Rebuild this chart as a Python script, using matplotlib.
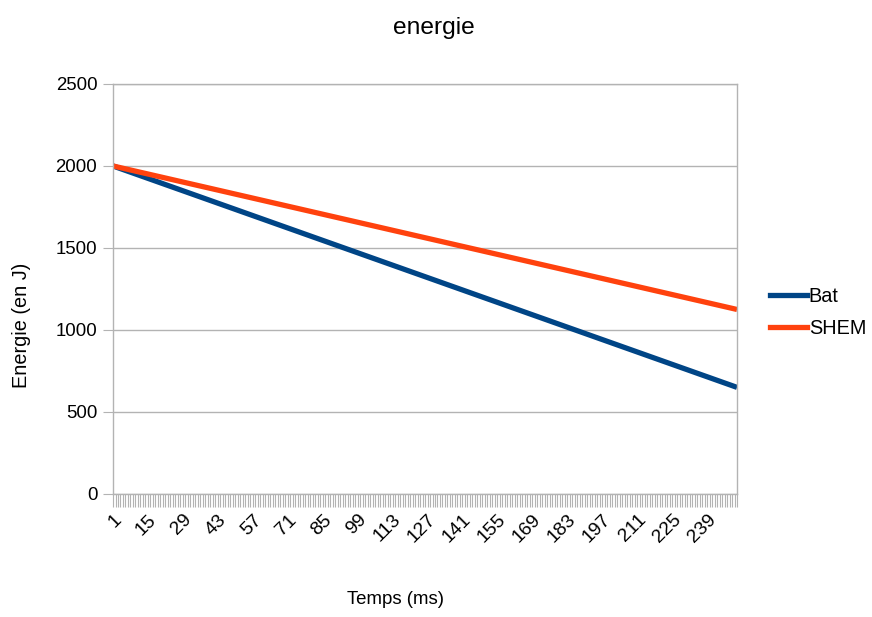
import matplotlib
matplotlib.use("Agg")
import matplotlib.pyplot as plt
from matplotlib import font_manager
from matplotlib.lines import Line2D

# the reference text looks condensed: use the narrow face when it exists
installed = {f.name for f in font_manager.fontManager.ttflist}
if "Liberation Sans Narrow" in installed:
    plt.rcParams["font.family"] = ["Liberation Sans Narrow", "DejaVu Sans"]
    k = 1.0
else:
    plt.rcParams["font.family"] = ["Liberation Sans", "DejaVu Sans"]
    k = 0.84

# categories: time step in ms (1 .. 251)
temps = list(range(1, 252))

# energy (J), one value per time step
bat = [
    2000, 1994.6, 1989.2, 1983.8, 1978.4, 1973, 1967.6, 1962.2, 1956.8, 1951.4,
    1946, 1940.6, 1935.2, 1929.8, 1924.4, 1919, 1913.6, 1908.2, 1902.8, 1897.4,
    1892, 1886.6, 1881.2, 1875.8, 1870.4, 1865, 1859.6, 1854.2, 1848.8, 1843.4,
    1838, 1832.6, 1827.2, 1821.8, 1816.4, 1811, 1805.6, 1800.2, 1794.8, 1789.4,
    1784, 1778.6, 1773.2, 1767.8, 1762.4, 1757, 1751.6, 1746.2, 1740.8, 1735.4,
    1730, 1724.6, 1719.2, 1713.8, 1708.4, 1703, 1697.6, 1692.2, 1686.8, 1681.4,
    1676, 1670.6, 1665.2, 1659.8, 1654.4, 1649, 1643.6, 1638.2, 1632.8, 1627.4,
    1622, 1616.6, 1611.2, 1605.8, 1600.4, 1595, 1589.6, 1584.2, 1578.8, 1573.4,
    1568, 1562.6, 1557.2, 1551.8, 1546.4, 1541, 1535.6, 1530.2, 1524.8, 1519.4,
    1514, 1508.6, 1503.2, 1497.8, 1492.4, 1487, 1481.6, 1476.2, 1470.8, 1465.4,
    1460, 1454.6, 1449.2, 1443.8, 1438.4, 1433, 1427.6, 1422.2, 1416.8, 1411.4,
    1406, 1400.6, 1395.2, 1389.8, 1384.4, 1379, 1373.6, 1368.2, 1362.8, 1357.4,
    1352, 1346.6, 1341.2, 1335.8, 1330.4, 1325, 1319.6, 1314.2, 1308.8, 1303.4,
    1298, 1292.6, 1287.2, 1281.8, 1276.4, 1271, 1265.6, 1260.2, 1254.8, 1249.4,
    1244, 1238.6, 1233.2, 1227.8, 1222.4, 1217, 1211.6, 1206.2, 1200.8, 1195.4,
    1190, 1184.6, 1179.2, 1173.8, 1168.4, 1163, 1157.6, 1152.2, 1146.8, 1141.4,
    1136, 1130.6, 1125.2, 1119.8, 1114.4, 1109, 1103.6, 1098.2, 1092.8, 1087.4,
    1082, 1076.6, 1071.2, 1065.8, 1060.4, 1055, 1049.6, 1044.2, 1038.8, 1033.4,
    1028, 1022.6, 1017.2, 1011.8, 1006.4, 1001, 995.6, 990.2, 984.8, 979.4,
    974, 968.6, 963.2, 957.8, 952.4, 947, 941.6, 936.2, 930.8, 925.4,
    920, 914.6, 909.2, 903.8, 898.4, 893, 887.6, 882.2, 876.8, 871.4,
    866, 860.6, 855.2, 849.8, 844.4, 839, 833.6, 828.2, 822.8, 817.4,
    812, 806.6, 801.2, 795.8, 790.4, 785, 779.6, 774.2, 768.8, 763.4,
    758, 752.6, 747.2, 741.8, 736.4, 731, 725.6, 720.2, 714.8, 709.4,
    704, 698.6, 693.2, 687.8, 682.4, 677, 671.6, 666.2, 660.8, 655.4,
    650,
]

shem = [
    2000, 1996.5, 1993, 1989.5, 1986, 1982.5, 1979, 1975.5, 1972, 1968.5,
    1965, 1961.5, 1958, 1954.5, 1951, 1947.5, 1944, 1940.5, 1937, 1933.5,
    1930, 1926.5, 1923, 1919.5, 1916, 1912.5, 1909, 1905.5, 1902, 1898.5,
    1895, 1891.5, 1888, 1884.5, 1881, 1877.5, 1874, 1870.5, 1867, 1863.5,
    1860, 1856.5, 1853, 1849.5, 1846, 1842.5, 1839, 1835.5, 1832, 1828.5,
    1825, 1821.5, 1818, 1814.5, 1811, 1807.5, 1804, 1800.5, 1797, 1793.5,
    1790, 1786.5, 1783, 1779.5, 1776, 1772.5, 1769, 1765.5, 1762, 1758.5,
    1755, 1751.5, 1748, 1744.5, 1741, 1737.5, 1734, 1730.5, 1727, 1723.5,
    1720, 1716.5, 1713, 1709.5, 1706, 1702.5, 1699, 1695.5, 1692, 1688.5,
    1685, 1681.5, 1678, 1674.5, 1671, 1667.5, 1664, 1660.5, 1657, 1653.5,
    1650, 1646.5, 1643, 1639.5, 1636, 1632.5, 1629, 1625.5, 1622, 1618.5,
    1615, 1611.5, 1608, 1604.5, 1601, 1597.5, 1594, 1590.5, 1587, 1583.5,
    1580, 1576.5, 1573, 1569.5, 1566, 1562.5, 1559, 1555.5, 1552, 1548.5,
    1545, 1541.5, 1538, 1534.5, 1531, 1527.5, 1524, 1520.5, 1517, 1513.5,
    1510, 1506.5, 1503, 1499.5, 1496, 1492.5, 1489, 1485.5, 1482, 1478.5,
    1475, 1471.5, 1468, 1464.5, 1461, 1457.5, 1454, 1450.5, 1447, 1443.5,
    1440, 1436.5, 1433, 1429.5, 1426, 1422.5, 1419, 1415.5, 1412, 1408.5,
    1405, 1401.5, 1398, 1394.5, 1391, 1387.5, 1384, 1380.5, 1377, 1373.5,
    1370, 1366.5, 1363, 1359.5, 1356, 1352.5, 1349, 1345.5, 1342, 1338.5,
    1335, 1331.5, 1328, 1324.5, 1321, 1317.5, 1314, 1310.5, 1307, 1303.5,
    1300, 1296.5, 1293, 1289.5, 1286, 1282.5, 1279, 1275.5, 1272, 1268.5,
    1265, 1261.5, 1258, 1254.5, 1251, 1247.5, 1244, 1240.5, 1237, 1233.5,
    1230, 1226.5, 1223, 1219.5, 1216, 1212.5, 1209, 1205.5, 1202, 1198.5,
    1195, 1191.5, 1188, 1184.5, 1181, 1177.5, 1174, 1170.5, 1167, 1163.5,
    1160, 1156.5, 1153, 1149.5, 1146, 1142.5, 1139, 1135.5, 1132, 1128.5,
    1125,
]

series_names = ["Bat", "SHEM"]
colors = {"Bat": "#004586", "SHEM": "#ff420e"}
grid_col = "#b3b3b3"

fig = plt.figure(figsize=(8.72, 6.17), dpi=100)
ax = fig.add_axes([0.1296, 0.1994, 0.7156, 0.6645])

ax.plot(temps, bat, color=colors["Bat"], linewidth=3.8, solid_capstyle="butt")
ax.plot(temps, shem, color=colors["SHEM"], linewidth=3.8, solid_capstyle="butt")

ax.set_xlim(temps[0], temps[-1])
ax.set_ylim(0, 2500)
ax.set_yticks(range(0, 2501, 500))
ax.yaxis.grid(True, color=grid_col, linewidth=1.0)
ax.set_axisbelow(True)

# one tick per category, label every 14th
ax.set_xticks(temps)
ax.set_xticklabels([str(t) if (t - 1) % 14 == 0 else "" for t in temps],
                   rotation=45, ha="right", va="top", rotation_mode="anchor")
ax.tick_params(axis="x", length=9.4, width=0.8, color=grid_col,
               labelsize=16.5 * k, pad=3)
ax.tick_params(axis="y", length=7, width=0.8, color=grid_col,
               labelsize=16 * k, pad=4.3)

for s in ax.spines.values():
    s.set_color(grid_col)
    s.set_linewidth(1.0)

fig.text(0.497, 0.954, "energie", ha="center", va="center", fontsize=21 * k)
fig.text(0.025, 0.473, "Energie (en J)", ha="center", va="center",
         rotation=90, fontsize=17 * k)
fig.text(0.454, 0.028, "Temps (ms)", ha="center", va="center",
         fontsize=16 * k)

handles = [Line2D([], [], color=colors[n], linewidth=3.8) for n in series_names]
fig.legend(handles, series_names, loc="center left",
           bbox_to_anchor=(0.862, 0.493), frameon=False, fontsize=17 * k,
           handlelength=1.9, handletextpad=0.08, labelspacing=0.65)

fig.savefig("out.png", dpi=100)
